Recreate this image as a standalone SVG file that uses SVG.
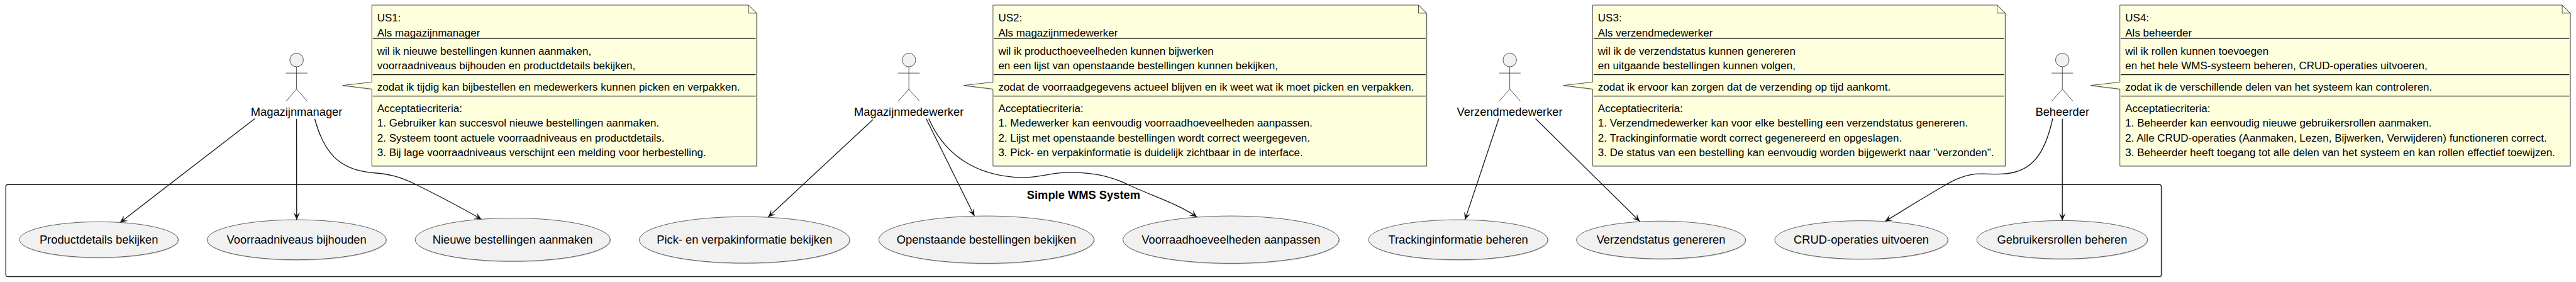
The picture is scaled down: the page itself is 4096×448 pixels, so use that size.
<svg xmlns="http://www.w3.org/2000/svg" width="4096" height="448" viewBox="0 0 4096 448">
<style>
text{font-family:"Liberation Sans",Arial,sans-serif;fill:#000}
.n{font-size:22.62px}
.a{font-size:24.36px;text-anchor:middle}
.t{font-size:24.36px;font-weight:bold;text-anchor:middle}
.note{fill:#FEFFDD;stroke:#181818;stroke-width:1}
.fold{fill:#FEFFDD;stroke:#181818;stroke-width:1}
.sep{stroke:#181818;stroke-width:1.74;fill:none}
.uc{fill:#F1F1F1;stroke:#181818;stroke-width:.9}
.body{fill:none;stroke:#181818;stroke-width:1}
.head{fill:#F1F1F1;stroke:#181818;stroke-width:1}
.sys{fill:#fff;stroke:#181818;stroke-width:1.74}
.c{fill:none;stroke:#181818;stroke-width:1.74;marker-end:url(#arr)}
</style>
<defs>
<marker id="arr" markerUnits="userSpaceOnUse" viewBox="-18 -10 20 20" markerWidth="20" markerHeight="20" refX="0" refY="0" orient="auto"><path d="M0,0L-15.7,-7L-8.7,0L-15.7,7Z" fill="#181818"/></marker>
<filter id="sh" x="-2%" y="-2%" width="104%" height="104%"><feDropShadow dx="1.2" dy="1.2" stdDeviation=".6" flood-color="#000" flood-opacity=".22"/></filter>
<g id="actor"><ellipse class="head" cx="0" cy="126.7" rx="14.3" ry="14.3"/><path class="body" d="M0,141V188.3M-22.8,154.3H22.8M0,188.3L-22.8,214M0,188.3L22.8,214"/></g>
</defs>
<g transform="scale(0.7525)">
<g id="system"><rect class="sys" filter="url(#sh)" x="12.3" y="389.7" width="4554.5" height="194.3" rx="4.5"/><text class="t" x="2289.6" y="420.5">Simple WMS System</text></g>
<g id="connectors">
<path class="c" d="M538.4,250.5L253.5,470"/>
<path class="c" d="M626.7,251L626.9,464"/>
<path class="c" d="M665,250.5C684,322 716,356 780,364C808,367 832,366 880,390C920,410 975,438 1017.3,463"/>
<path class="c" d="M1844.6,252.4L1623,458.4"/>
<path class="c" d="M1957,250.5L2059,456.2"/>
<path class="c" d="M1962.5,250.5C1995,325 2060,372 2159,375C2190,376 2225,364 2257,364C2290,364 2335,366 2382,389C2430,412 2490,430 2529.5,458.4"/>
<path class="c" d="M3167,250.5L3095.5,464"/>
<path class="c" d="M3244.6,250.5L3465,467.5"/>
<path class="c" d="M4337.3,250.5C4320,330 4290,366 4228,367.4C4205,368 4190,366 4175,367.4C4140,372 4120,385 4103.6,394.7C4060,420 4020,445 3983,467.5"/>
<path class="c" d="M4357.8,251L4357.8,465.7"/>
</g>
<g id="uc1"><ellipse class="uc" filter="url(#sh)" cx="208.8" cy="506" rx="167.8" ry="37.7"/><text class="a" x="208.8" y="514.3">Productdetails bekijken</text></g>
<g id="uc2"><ellipse class="uc" filter="url(#sh)" cx="626.8" cy="506.2" rx="189.3" ry="42.2"/><text class="a" x="626.8" y="514.3">Voorraadniveaus bijhouden</text></g>
<g id="uc3"><ellipse class="uc" filter="url(#sh)" cx="1083.3" cy="506" rx="206" ry="45.6"/><text class="a" x="1083.3" y="514.3">Nieuwe bestellingen aanmaken</text></g>
<g id="uc4"><ellipse class="uc" filter="url(#sh)" cx="1573.2" cy="506.5" rx="222.3" ry="49"/><text class="a" x="1573.2" y="514.3">Pick- en verpakinformatie bekijken</text></g>
<g id="uc5"><ellipse class="uc" filter="url(#sh)" cx="2084.3" cy="506" rx="227.3" ry="50"/><text class="a" x="2084.3" y="514.3">Openstaande bestellingen bekijken</text></g>
<g id="uc6"><ellipse class="uc" filter="url(#sh)" cx="2601.2" cy="506" rx="228.3" ry="50"/><text class="a" x="2601.2" y="514.3">Voorraadhoeveelheden aanpassen</text></g>
<g id="uc7"><ellipse class="uc" filter="url(#sh)" cx="3081.2" cy="506.2" rx="189.3" ry="42.2"/><text class="a" x="3081.2" y="514.3">Trackinginformatie beheren</text></g>
<g id="uc8"><ellipse class="uc" filter="url(#sh)" cx="3509.7" cy="506.6" rx="178.7" ry="39.8"/><text class="a" x="3509.7" y="514.3">Verzendstatus genereren</text></g>
<g id="uc9"><ellipse class="uc" filter="url(#sh)" cx="3933" cy="506.5" rx="183" ry="40.5"/><text class="a" x="3933" y="514.3">CRUD-operaties uitvoeren</text></g>
<g id="uc10"><ellipse class="uc" filter="url(#sh)" cx="4357.4" cy="506.1" rx="180.3" ry="40.4"/><text class="a" x="4357.4" y="514.3">Gebruikersrollen beheren</text></g>
<g id="actor1"><use href="#actor" x="626.7"/><text class="a" x="626.7" y="244.3">Magazijnmanager</text></g>
<g id="actor2"><use href="#actor" x="1920.5"/><text class="a" x="1920.5" y="244.3">Magazijnmedewerker</text></g>
<g id="actor3"><use href="#actor" x="3190.2"/><text class="a" x="3190.2" y="244.3">Verzendmedewerker</text></g>
<g id="actor4"><use href="#actor" x="4357.8"/><text class="a" x="4357.8" y="244.3">Beheerder</text></g>
<g id="note1">
<path class="note" filter="url(#sh)" d="M785.7,10.7H1581.7L1598.7,27.7V350.5H785.7V188L724,180.3L785.7,173.3Z"/>
<path class="fold" d="M1581.7,10.7V27.7H1598.7Z"/>
<path class="sep" d="M787.7,81.3H1596.7M787.7,157.7H1596.7M787.7,202.8H1596.7"/>
<text class="n" x="797" y="45">US1:</text><text class="n" x="797" y="77">Als magazijnmanager</text>
<text class="n" x="797" y="115">wil ik nieuwe bestellingen kunnen aanmaken,</text><text class="n" x="797" y="146">voorraadniveaus bijhouden en productdetails bekijken,</text>
<text class="n" x="797" y="190.7">zodat ik tijdig kan bijbestellen en medewerkers kunnen picken en verpakken.</text>
<text class="n" x="797" y="236">Acceptatiecriteria:</text><text class="n" x="797" y="267.7">1. Gebruiker kan succesvol nieuwe bestellingen aanmaken.</text><text class="n" x="797" y="299">2. Systeem toont actuele voorraadniveaus en productdetails.</text><text class="n" x="797" y="330">3. Bij lage voorraadniveaus verschijnt een melding voor herbestelling.</text>
</g>
<g id="note2">
<path class="note" filter="url(#sh)" d="M2098.2,10.7H2997.3L3014.3,27.7V350.5H2098.2V188L2036.5,180.3L2098.2,173.3Z"/>
<path class="fold" d="M2997.3,10.7V27.7H3014.3Z"/>
<path class="sep" d="M2100.2,81.3H3012.3M2100.2,157.7H3012.3M2100.2,202.8H3012.3"/>
<text class="n" x="2109.5" y="45">US2:</text><text class="n" x="2109.5" y="77">Als magazijnmedewerker</text>
<text class="n" x="2109.5" y="115">wil ik producthoeveelheden kunnen bijwerken</text><text class="n" x="2109.5" y="146">en een lijst van openstaande bestellingen kunnen bekijken,</text>
<text class="n" x="2109.5" y="190.7">zodat de voorraadgegevens actueel blijven en ik weet wat ik moet picken en verpakken.</text>
<text class="n" x="2109.5" y="236">Acceptatiecriteria:</text><text class="n" x="2109.5" y="267.7">1. Medewerker kan eenvoudig voorraadhoeveelheden aanpassen.</text><text class="n" x="2109.5" y="299">2. Lijst met openstaande bestellingen wordt correct weergegeven.</text><text class="n" x="2109.5" y="330">3. Pick- en verpakinformatie is duidelijk zichtbaar in de interface.</text>
</g>
<g id="note3">
<path class="note" filter="url(#sh)" d="M3365.2,10.7H4220L4237,27.7V350.5H3365.2V188L3303.5,180.3L3365.2,173.3Z"/>
<path class="fold" d="M4220,10.7V27.7H4237Z"/>
<path class="sep" d="M3367.2,81.3H4235M3367.2,157.7H4235M3367.2,202.8H4235"/>
<text class="n" x="3376.5" y="45">US3:</text><text class="n" x="3376.5" y="77">Als verzendmedewerker</text>
<text class="n" x="3376.5" y="115">wil ik de verzendstatus kunnen genereren</text><text class="n" x="3376.5" y="146">en uitgaande bestellingen kunnen volgen,</text>
<text class="n" x="3376.5" y="190.7">zodat ik ervoor kan zorgen dat de verzending op tijd aankomt.</text>
<text class="n" x="3376.5" y="236">Acceptatiecriteria:</text><text class="n" x="3376.5" y="267.7">1. Verzendmedewerker kan voor elke bestelling een verzendstatus genereren.</text><text class="n" x="3376.5" y="299">2. Trackinginformatie wordt correct gegenereerd en opgeslagen.</text><text class="n" x="3376.5" y="330">3. De status van een bestelling kan eenvoudig worden bijgewerkt naar "verzonden".</text>
</g>
<g id="note4">
<path class="note" filter="url(#sh)" d="M4479.4,10.7H5414L5431,27.7V350.5H4479.4V188L4417.7,180.3L4479.4,173.3Z"/>
<path class="fold" d="M5414,10.7V27.7H5431Z"/>
<path class="sep" d="M4481.4,81.3H5429M4481.4,157.7H5429M4481.4,202.8H5429"/>
<text class="n" x="4490.7" y="45">US4:</text><text class="n" x="4490.7" y="77">Als beheerder</text>
<text class="n" x="4490.7" y="115">wil ik rollen kunnen toevoegen</text><text class="n" x="4490.7" y="146">en het hele WMS-systeem beheren, CRUD-operaties uitvoeren,</text>
<text class="n" x="4490.7" y="190.7">zodat ik de verschillende delen van het systeem kan controleren.</text>
<text class="n" x="4490.7" y="236">Acceptatiecriteria:</text><text class="n" x="4490.7" y="267.7">1. Beheerder kan eenvoudig nieuwe gebruikersrollen aanmaken.</text><text class="n" x="4490.7" y="299">2. Alle CRUD-operaties (Aanmaken, Lezen, Bijwerken, Verwijderen) functioneren correct.</text><text class="n" x="4490.7" y="330">3. Beheerder heeft toegang tot alle delen van het systeem en kan rollen effectief toewijzen.</text>
</g>
</g>
</svg>
